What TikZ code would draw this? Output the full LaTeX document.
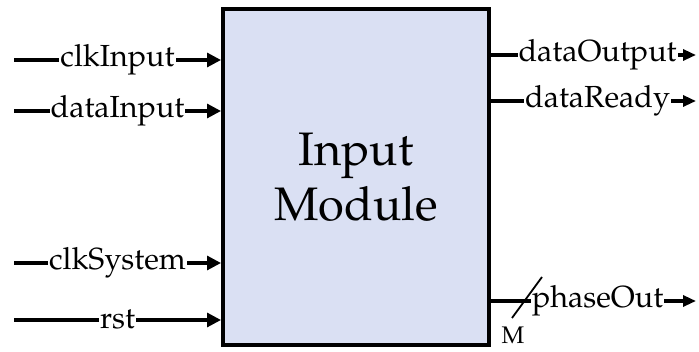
\documentclass[tikz,border=0pt]{standalone}
\usepackage[T1]{fontenc}
\usepackage{mathpazo}
\usetikzlibrary{arrows.meta}
\definecolor{modfill}{RGB}{218,224,243}
\begin{document}
\begin{tikzpicture}[x=1pt,y=-1pt,
  sig/.style={line width=3.1pt,-{Triangle[length=14pt,width=14pt]}},
  osig/.style={line width=3.1pt,-{Triangle[length=13pt,width=11pt]}},
  lbl/.style={fill=white,inner sep=1pt,font=\fontsize{30.5}{36}\selectfont},
  modbox/.style={draw,line width=4pt,fill=modfill,minimum width=266pt,minimum height=336.5pt,inner sep=0pt,align=center,font=\fontsize{47}{55}\selectfont}
 ]
\useasboundingbox (0,0) rectangle (699,352);
\node[modbox] (mod) at (356,177.25) {Input\\Module};
% inputs
\coordinate (i1) at (14,60);
\coordinate (i2) at (14,111);
\coordinate (i3) at (14,263);
\coordinate (i4) at (14,320);
\draw[sig] (i1) -- node[lbl]{clkInput} (i1 -| mod.west);
\draw[sig] (i2) -- node[lbl]{dataInput} (i2 -| mod.west);
\draw[sig] (i3) -- node[lbl]{clkSystem} (i3 -| mod.west);
\draw[sig] (i4) -- node[lbl]{rst} (i4 -| mod.west);
% outputs
\coordinate (o1) at (696,55);
\coordinate (o2) at (696,101);
\coordinate (o3) at (696,301);
\draw[osig] (o1 -| mod.east) -- node[lbl,pos=0.52]{dataOutput} (o1);
\draw[osig] (o2 -| mod.east) -- node[lbl,pos=0.52]{dataReady} (o2);
\draw[osig] (o3 -| mod.east) -- node[lbl,pos=0.52]{phaseOut} (o3);
% bus marker
\draw[line width=1.8pt] (512,318) -- (542,277);
\node[font=\fontsize{24}{28}\selectfont,inner sep=0pt] (mlab) at (513,335) {M};
\end{tikzpicture}
\end{document}
